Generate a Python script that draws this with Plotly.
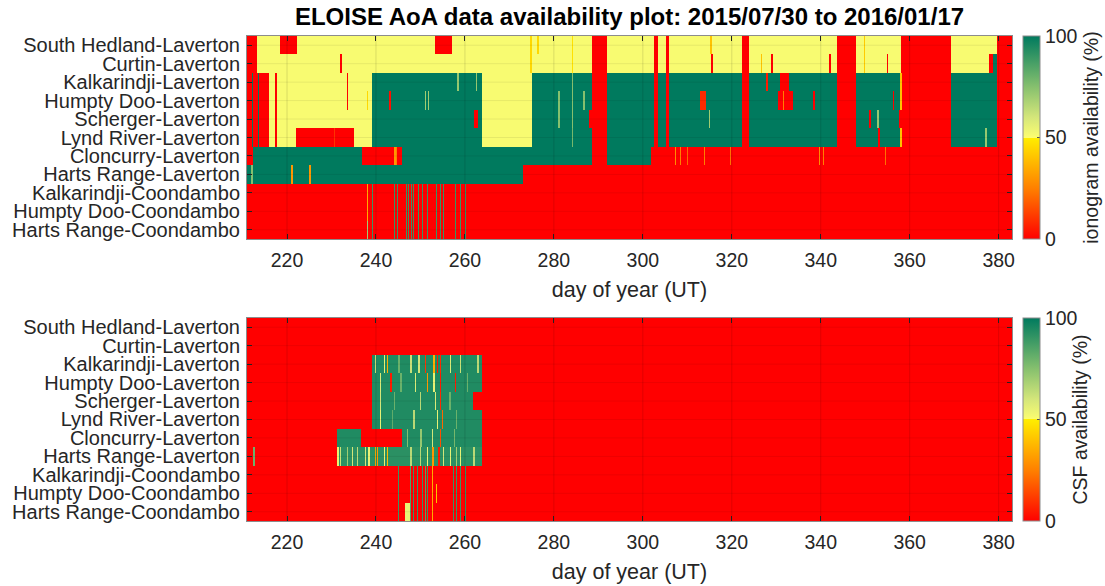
import numpy as np
import plotly.graph_objects as go

title_text = "ELOISE AoA data availability plot: 2015/07/30 to 2016/01/17"
x_title = "day of year (UT)"
iono_cbar_title = "ionogram availability (%)"
csf_cbar_title = "CSF availability (%)"

station_pairs = [
    "South Hedland-Laverton", "Curtin-Laverton", "Kalkarindji-Laverton",
    "Humpty Doo-Laverton", "Scherger-Laverton", "Lynd River-Laverton",
    "Cloncurry-Laverton", "Harts Range-Laverton", "Kalkarindji-Coondambo",
    "Humpty Doo-Coondambo", "Harts Range-Coondambo",
]
first_day, last_day = 211, 383
day_ticks = [220, 240, 260, 280, 300, 320, 340, 360, 380]
percent_ticks = [0, 50, 100]

# Availability runs: (from day, to day, percent). Later runs overwrite earlier ones.

# ---- ionogram availability ----
iono_south_hedland = [
    (211, 383, 51), (211, 213.3, 0), (218.4, 222.3, 0), (253.2, 257.2, 0),
    (274.6, 275.0, 45), (276.3, 276.6, 45), (284.0, 284.3, 47),
    (288.5, 292.0, 0), (302.6, 303.3, 0), (305.1, 305.9, 0), (315.2, 315.5, 40),
    (322.2, 323.9, 0), (343.6, 347.9, 0), (349.7, 350.0, 42),
    (358.1, 369.2, 0), (379.6, 383, 0),
]
iono_curtin = [
    (211, 383, 51), (211, 213.3, 0), (231.9, 232.4, 0), (274.6, 275.0, 45),
    (284.0, 284.3, 47), (288.5, 292.0, 0), (302.6, 303.3, 0), (305.1, 305.9, 0),
    (315.3, 315.8, 0), (322.2, 323.9, 0), (326.6, 326.9, 40), (328.9, 329.3, 0),
    (341.9, 342.2, 0), (343.6, 347.9, 0), (349.7, 350.0, 42), (354.8, 355.2, 0),
    (358.1, 369.2, 0), (377.8, 378.8, 0), (378.8, 379.6, 100), (379.6, 383, 0),
]
# shared pattern of the four northern Laverton links
iono_north_block = [
    (211, 216, 0), (212.1, 212.4, 100), (213.4, 213.8, 100),
    (216, 239.2, 51), (217.3, 217.7, 0),
    (239.2, 263.9, 100), (263.9, 275.0, 51), (275.0, 288.5, 100),
    (288.5, 292.0, 0), (292.0, 302.6, 100), (302.6, 303.3, 0), (303.3, 305.1, 100),
    (305.1, 305.9, 0), (305.9, 322.2, 100), (322.2, 323.9, 0), (323.9, 343.6, 100),
    (343.6, 347.9, 0), (347.9, 357.9, 100), (357.9, 358.2, 40), (358.2, 369.2, 0),
    (369.2, 379.6, 100), (379.6, 383, 0),
]
iono_kalkarindji = [
    (233.4, 233.8, 0), (258.3, 258.6, 72), (262.5, 262.8, 72), (284.0, 284.3, 75),
    (327.8, 328.1, 5), (330.9, 332.8, 0),
]
iono_humpty_doo = [
    (233.4, 233.8, 0), (238.0, 238.3, 45), (243.0, 243.4, 3), (251.0, 251.3, 70),
    (251.7, 252.0, 70), (281.0, 281.3, 75), (284.0, 284.3, 75), (286.6, 286.9, 75),
    (312.8, 314.2, 8), (330.3, 333.8, 0), (331.5, 331.8, 25), (338.2, 338.6, 0),
    (356.2, 356.5, 0),
]
iono_scherger = [
    (262.0, 263.0, 0), (281.0, 281.3, 75), (284.0, 284.3, 75), (287.9, 288.5, 0),
    (314.9, 315.2, 70), (350.9, 351.2, 0), (352.6, 353.0, 72), (357.6, 358.2, 0),
]
iono_lynd_river = [
    (222.0, 235.1, 0), (230.5, 230.8, 10), (284.0, 284.3, 78), (352.8, 353.3, 0),
    (377.0, 377.3, 72),
]
iono_cloncurry = [
    (211, 383, 0), (212.4, 236.8, 100), (244.1, 244.4, 30), (244.5, 244.7, 25),
    (245.9, 288.5, 100), (292.0, 301.8, 100),
    (306.0, 306.2, 25), (307.2, 307.4, 28), (308.3, 308.5, 25), (310.0, 310.2, 20),
    (313.7, 313.9, 25), (319.6, 319.8, 22), (326.7, 326.9, 25), (336.8, 337.0, 25),
    (339.7, 339.9, 28), (340.6, 340.8, 25), (354.5, 354.7, 22), (355.7, 355.9, 22),
]
iono_harts_range = [
    (211, 383, 0), (211, 273, 100), (212.0, 212.3, 75), (221.0, 221.4, 30),
    (225.0, 225.3, 30),
]
iono_coondambo_streaks = [
    (239.0, 239.3, 90), (244.1, 244.35, 90), (244.7, 244.95, 90), (245.3, 245.55, 90),
    (246.2, 246.45, 90), (246.7, 246.95, 90), (247.3, 247.55, 90), (247.9, 248.15, 90),
    (248.4, 248.65, 90), (249.5, 249.75, 90), (250.3, 250.55, 90), (251.4, 251.65, 90),
    (252.5, 252.75, 90), (253.6, 253.85, 90), (254.4, 254.65, 90), (255.1, 255.35, 90),
    (257.0, 257.25, 90), (257.8, 258.05, 90), (258.9, 259.15, 90), (260.0, 260.25, 90),
]
iono_kalkarindji_coondambo = [(211, 383, 0), (238.0, 238.3, 35)]
iono_humpty_doo_coondambo = [(211, 383, 0), (238.0, 238.3, 35)]
iono_harts_range_coondambo = [(211, 383, 0), (238.0, 238.3, 70)]

# ---- CSF availability ----
csf_south_hedland = [(211, 383, 0)]
csf_curtin = [(211, 383, 0)]
csf_kalkarindji = [
    (211, 383, 0), (239.2, 263.9, 94), (239.8, 240.1, 60), (241.8, 242.1, 55),
    (242.4, 242.7, 35), (245.0, 245.3, 80), (247.7, 248.0, 62), (249.5, 249.8, 60),
    (251.0, 251.3, 10), (252.9, 253.2, 35), (253.7, 254.0, 5), (254.4, 254.7, 8),
    (256.6, 256.9, 58), (258.9, 259.2, 62), (262.8, 263.1, 65),
]
csf_humpty_doo = [
    (211, 383, 0), (239.2, 263.9, 94), (240.8, 241.1, 58), (243.2, 243.5, 5),
    (245.5, 245.8, 80), (248.8, 249.1, 58), (251.4, 251.7, 30), (252.9, 253.2, 55),
    (254.4, 254.7, 5), (257.8, 258.1, 5), (260.5, 260.8, 80),
]
csf_scherger = [
    (211, 383, 0), (239.2, 261.9, 94), (240.9, 241.2, 60), (244.0, 244.3, 80),
    (249.9, 250.2, 65), (253.3, 253.6, 58), (254.4, 254.7, 8), (256.5, 256.8, 80),
]
csf_lynd_river = [
    (211, 383, 0), (239.2, 263.9, 94), (240.9, 241.2, 55), (243.5, 243.8, 82),
    (248.4, 248.7, 65), (253.7, 254.0, 55), (254.8, 255.1, 20), (258.0, 258.3, 80),
]
csf_cloncurry = [
    (211, 383, 0), (231.2, 236.6, 94), (245.9, 263.9, 94), (247.0, 247.3, 75),
    (250.0, 250.3, 72), (252.5, 252.8, 60), (254.4, 254.7, 15), (257.5, 257.8, 78),
]
csf_harts_range = [
    (211, 383, 0), (212.4, 212.8, 80), (231.2, 263.9, 92), (231.3, 231.6, 55),
    (231.8, 232.1, 62), (233.5, 233.8, 70), (234.5, 234.8, 60), (235.7, 236.0, 65),
    (237.5, 237.8, 60), (238.3, 238.6, 55), (239.8, 240.1, 35), (240.2, 240.5, 30),
    (241.8, 242.1, 55), (242.4, 242.7, 38), (247.7, 248.0, 65), (249.9, 250.2, 65),
    (251.4, 251.7, 55), (252.7, 253.0, 30), (254.0, 254.3, 5), (255.1, 255.4, 60),
    (256.6, 256.9, 55), (258.0, 258.3, 70), (258.9, 259.2, 55), (261.9, 262.2, 65),
]
csf_coondambo_streaks = [
    (245.0, 245.25, 90), (246.2, 246.45, 90), (247.7, 247.95, 85), (248.4, 248.65, 90),
    (249.2, 249.45, 90), (250.3, 250.55, 90), (251.0, 251.25, 85), (251.4, 251.65, 90),
    (252.7, 252.95, 35), (257.4, 257.65, 90), (258.1, 258.35, 90), (259.0, 259.25, 90),
    (260.0, 260.25, 90),
]
csf_kalkarindji_coondambo = [(211, 383, 0)]
csf_humpty_doo_coondambo = [(211, 383, 0), (253.6, 253.85, 40)]
csf_harts_range_coondambo = [(211, 383, 0), (246.6, 247.7, 55)]

# ---- build the gridded images ----
step = 0.1
centres = first_day + step / 2 + step * np.arange(int(round((last_day - first_day) / step)))


def paint(*run_lists):
    row = np.zeros(centres.size)
    for runs in run_lists:
        for start, end, value in runs:
            row[(centres >= start) & (centres < end)] = value
    return row


iono_z = np.vstack([
    paint(iono_south_hedland),
    paint(iono_curtin),
    paint(iono_north_block, iono_kalkarindji),
    paint(iono_north_block, iono_humpty_doo),
    paint(iono_north_block, iono_scherger),
    paint(iono_north_block, iono_lynd_river),
    paint(iono_cloncurry),
    paint(iono_harts_range),
    paint(iono_kalkarindji_coondambo, iono_coondambo_streaks),
    paint(iono_humpty_doo_coondambo, iono_coondambo_streaks),
    paint(iono_harts_range_coondambo, iono_coondambo_streaks),
])
csf_z = np.vstack([
    paint(csf_south_hedland),
    paint(csf_curtin),
    paint(csf_kalkarindji),
    paint(csf_humpty_doo),
    paint(csf_scherger),
    paint(csf_lynd_river),
    paint(csf_cloncurry),
    paint(csf_harts_range),
    paint(csf_kalkarindji_coondambo, csf_coondambo_streaks),
    paint(csf_humpty_doo_coondambo, csf_coondambo_streaks),
    paint(csf_harts_range_coondambo, csf_coondambo_streaks),
])

# red -> orange -> yellow below 50 %, pale yellow -> green -> teal above
availability_scale = [
    [0.0, "#FF0000"], [0.25, "#FF8000"], [0.5, "#FFEE00"],
    [0.5, "#FCFD70"], [0.6, "#D4E67A"], [0.75, "#86C06E"], [1.0, "#007A5E"],
]

FONT = "Liberation Sans, Arial, Helvetica, sans-serif"
TEXT = "#262626"
rows = list(range(len(station_pairs)))

fig = go.Figure()


def colourbar(title, y_top):
    return dict(
        title=dict(text=title, side="right", font=dict(size=19.5, color=TEXT, family=FONT)),
        x=1.0144, xanchor="left", xref="paper", xpad=0,
        y=y_top, yanchor="top", len=0.4186, lenmode="fraction", ypad=0,
        thickness=17, outlinecolor="#8c8c8c", outlinewidth=1,
        tickvals=percent_ticks, ticks="inside", ticklen=3, tickcolor="#555555",
        tickfont=dict(size=19.5, color=TEXT, family=FONT),
    )


fig.add_trace(go.Heatmap(
    x=centres, y=rows, z=iono_z, zmin=0, zmax=100, colorscale=availability_scale,
    colorbar=colourbar(iono_cbar_title, 1.0), xaxis="x", yaxis="y",
    hoverinfo="skip",
))
fig.add_trace(go.Heatmap(
    x=centres, y=rows, z=csf_z, zmin=0, zmax=100, colorscale=availability_scale,
    colorbar=colourbar(csf_cbar_title, 0.4186), xaxis="x2", yaxis="y2",
    hoverinfo="skip",
))

x_common = dict(
    range=[first_day, last_day], tickvals=day_ticks, ticks="inside", ticklen=5,
    tickcolor=TEXT, showline=True, linecolor="#8c8c8c", linewidth=1, mirror="ticks",
    showgrid=False, zeroline=False, ticklabelstandoff=4,
    tickfont=dict(size=19.5, color=TEXT, family=FONT),
    title=dict(text=x_title, font=dict(size=21.5, color=TEXT, family=FONT), standoff=11),
)
y_common = dict(
    range=[len(station_pairs) - 0.5, -0.5], tickvals=rows, ticktext=station_pairs,
    ticks="inside", ticklen=5, tickcolor=TEXT, showline=True, linecolor="#8c8c8c",
    linewidth=1, mirror="ticks", showgrid=False, zeroline=False, ticklabelstandoff=2,
    tickfont=dict(size=20, color=TEXT, family=FONT),
)

fig.update_layout(
    width=1105, height=586,
    margin=dict(l=247, r=93, t=36, b=65, autoexpand=False),
    paper_bgcolor="white", plot_bgcolor="white",
    font=dict(family=FONT, color=TEXT),
    title=dict(text="<b>" + title_text + "</b>", x=0.5, xref="paper", xanchor="center",
               y=1 - 17 / 586, yref="container", yanchor="middle",
               font=dict(size=24, color="#000000", family=FONT)),
    xaxis=dict(domain=[0, 1], anchor="y", **x_common),
    yaxis=dict(domain=[0.5814, 1], anchor="x", **y_common),
    xaxis2=dict(domain=[0, 1], anchor="y2", **x_common),
    yaxis2=dict(domain=[0, 0.4186], anchor="x2", **y_common),
    showlegend=False,
)

# faint grid drawn over the image, at the axis ticks
grid_shapes = []
for xr, yr in (("x", "y"), ("x2", "y2")):
    for d in day_ticks:
        grid_shapes.append(dict(type="line", xref=xr, yref=yr + " domain", x0=d, x1=d,
                                y0=0, y1=1, layer="above",
                                line=dict(color="rgba(0,0,0,0.12)", width=1)))
    for r in rows:
        grid_shapes.append(dict(type="line", xref=xr + " domain", yref=yr, x0=0, x1=1,
                                y0=r, y1=r, layer="above",
                                line=dict(color="rgba(0,0,0,0.07)", width=1)))
fig.update_layout(shapes=grid_shapes)

fig.write_html("out.html")
